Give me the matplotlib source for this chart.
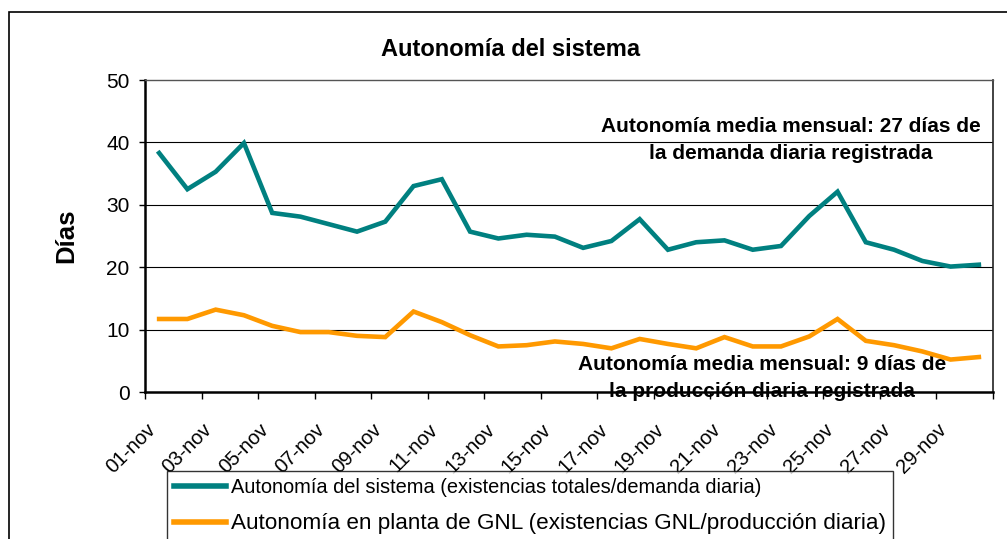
import matplotlib
matplotlib.use('Agg')
import matplotlib.pyplot as plt
from matplotlib.patches import Rectangle

################################################
#Data
################################################
#Days of November (categories)
dias = ['01-nov', '02-nov', '03-nov', '04-nov', '05-nov', '06-nov', '07-nov', '08-nov',
        '09-nov', '10-nov', '11-nov', '12-nov', '13-nov', '14-nov', '15-nov', '16-nov',
        '17-nov', '18-nov', '19-nov', '20-nov', '21-nov', '22-nov', '23-nov', '24-nov',
        '25-nov', '26-nov', '27-nov', '28-nov', '29-nov', '30-nov']
#Autonomia del sistema (existencias totales/demanda diaria)
autonomia_sistema = [38.3, 32.5, 35.3, 39.9, 28.7, 28.1, 26.9, 25.7, 27.3, 33.0,
                     34.1, 25.7, 24.6, 25.2, 24.9, 23.1, 24.2, 27.7, 22.8, 24.0,
                     24.3, 22.8, 23.4, 28.2, 32.1, 24.0, 22.8, 21.0, 20.1, 20.4]
#Autonomia en planta de GNL (existencias GNL/produccion diaria)
autonomia_gnl = [11.7, 11.7, 13.2, 12.3, 10.6, 9.6, 9.6, 9.0, 8.8, 12.9,
                 11.2, 9.1, 7.3, 7.5, 8.1, 7.7, 7.0, 8.5, 7.7, 7.0,
                 8.8, 7.3, 7.3, 8.9, 11.7, 8.2, 7.5, 6.5, 5.2, 5.6]
y_ticks = [0, 10, 20, 30, 40, 50]
label_sistema = 'Autonomía del sistema (existencias totales/demanda diaria)'
label_gnl = 'Autonomía en planta de GNL (existencias GNL/producción diaria)'
nota_sistema = 'Autonomía media mensual: 27 días de\nla demanda diaria registrada'
nota_gnl = 'Autonomía media mensual: 9 días de\nla producción diaria registrada'

plt.rcParams['font.family'] = ['Liberation Sans', 'DejaVu Sans']

W, H = 1007, 539
fig = plt.figure(figsize=(W / 100, H / 100), dpi=100)

#Outer chart border (cut by the image edges on right and bottom)
fig.add_artist(Rectangle((9 / W, -0.1), 1.2, 1 - 12 / H + 0.1, transform=fig.transFigure,
                         fill=False, edgecolor='black', linewidth=1.2))

#Plot area in pixels: left 145, right 993, top 80, bottom 392
ax = fig.add_axes([145 / W, 1 - 392 / H, (993 - 145) / W, (392 - 80) / H])

x = list(range(len(dias)))
ax.plot(x, autonomia_sistema, color='#008080', linewidth=3.3, solid_joinstyle='miter',
        label=label_sistema, zorder=4)
ax.plot(x, autonomia_gnl, color='#FF9900', linewidth=3.3, solid_joinstyle='miter',
        label=label_gnl, zorder=4)

ax.set_xlim(-0.5, len(dias) - 0.5)
ax.set_ylim(0, 50)

#Gridlines
for v in y_ticks[1:-1]:
    ax.axhline(v, color='black', linewidth=0.8, zorder=1)

#Spines
ax.spines['left'].set_linewidth(1.8)
ax.spines['bottom'].set_linewidth(1.8)
ax.spines['top'].set_color('#555555')
ax.spines['right'].set_color('#222222')
ax.spines['top'].set_linewidth(1.0)
ax.spines['right'].set_linewidth(1.2)

#Y axis
ax.set_yticks(y_ticks)
ax.tick_params(axis='y', direction='out', length=4, width=1, pad=7, labelsize=15)
ax.set_ylabel('Días', fontsize=18.5, fontweight='bold')
ax.yaxis.set_label_coords((78 - 145) / (993 - 145), 0.5)

#X axis: tick marks every two categories at boundaries, labels at category centres
ax.set_xticks([i - 0.5 for i in range(0, len(dias) + 1, 2)])
ax.set_xticklabels([])
ax.tick_params(axis='x', which='major', direction='out', length=5, width=1)
ax.set_xticks(x[::2], minor=True)
ax.set_xticklabels(dias[::2], minor=True, rotation=45, ha='right', fontsize=14.5)
ax.tick_params(axis='x', which='minor', length=0, pad=20)

#Title
fig.text(511 / W, 1 - 50 / H, 'Autonomía del sistema', ha='center', va='center',
         fontsize=17, fontweight='bold')

#Notes (drawn under the axis line, as in the original)
ax.text(791 / W, 1 - 140 / H, nota_sistema, transform=fig.transFigure, ha='center',
        va='center', fontsize=15, fontweight='bold', linespacing=1.5, zorder=1)
ax.text(762 / W, 1 - 378 / H, nota_gnl, transform=fig.transFigure, ha='center',
        va='center', fontsize=15, fontweight='bold', linespacing=1.5, zorder=1)

#Legend
leg = fig.legend(loc='upper left', bbox_to_anchor=(167 / W, 1 - 471 / H),
                 bbox_transform=fig.transFigure, frameon=True, fancybox=False,
                 prop={'size': 15}, handlelength=2.5, handletextpad=0.2,
                 borderpad=0.35, labelspacing=0.75, borderaxespad=0)
leg.get_frame().set_edgecolor('black')
leg.get_frame().set_linewidth(1.0)
leg.get_texts()[0].set_fontsize(14.4)
leg.get_texts()[1].set_fontsize(16.2)
for line in leg.get_lines():
    line.set_linewidth(4)

fig.savefig('out.png', dpi=100)
